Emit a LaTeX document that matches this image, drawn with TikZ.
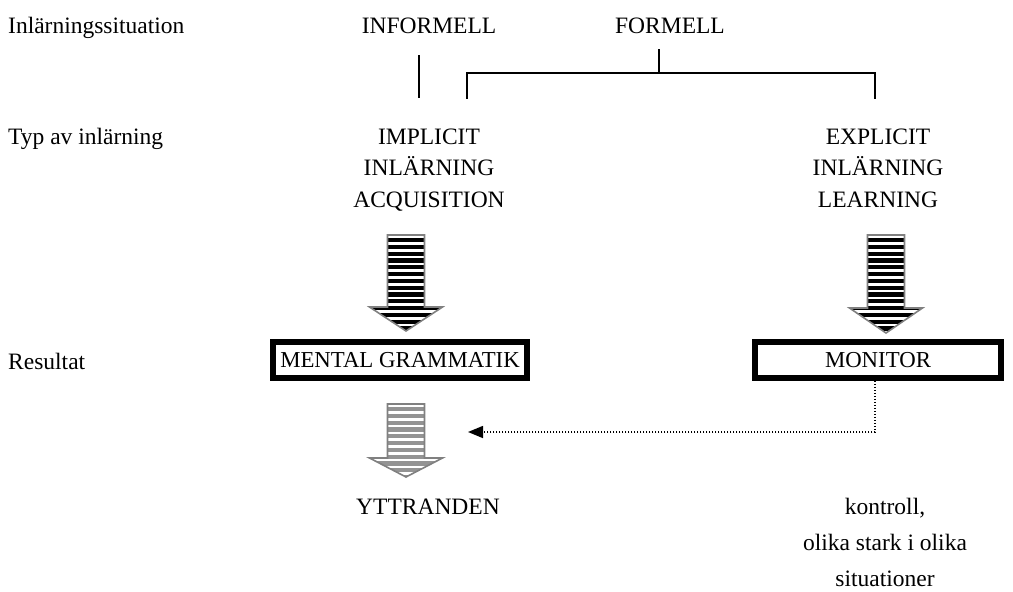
\documentclass[tikz,border=0pt]{standalone}
\usepackage{fontspec}
\setmainfont{Liberation Serif}
\usetikzlibrary{arrows.meta}
\begin{document}
\begin{tikzpicture}[x=1pt,y=-1pt,
  txt/.style={font=\fontsize{23.5}{27}\selectfont, inner sep=0pt, anchor=base},
  ltxt/.style={txt, anchor=base west},
  tree/.style={line width=1.4pt},
  resbox/.style={draw, line width=5.5pt, minimum width=255pt, minimum height=36pt, inner sep=0pt, font=\fontsize{22.8}{27}\selectfont}]
\useasboundingbox (0,0) rectangle (1013,592);
% column 1 labels
\node[ltxt] (sit) at (8,33) {Inlärningssituation};
\node[ltxt] (typ) at (8,144) {Typ av inlärning};
\node[ltxt] (res) at (8,369) {Resultat};
% top row
\node[txt] (inf) at (429,33) {INFORMELL};
\node[txt] (for) at (670,33) {FORMELL};
% tree lines
\coordinate (infa) at (419,55);
\coordinate (infb) at (419,98);
\draw[tree] (infa) -- (infb);
\coordinate (fs) at (659,49);
\coordinate (fm) at (659,73);
\coordinate (fl) at (467,73);
\coordinate (fr) at (875,73);
\coordinate (fld) at (467,98);
\coordinate (frd) at (875,98);
\draw[tree] (fs) -- (fm);
\draw[tree, line cap=rect] (fld) -- (fl) -- (fr) -- (frd);
% second row
\node[txt] (imp1) at (429,144) {IMPLICIT};
\node[txt] (imp2) at (429,175) {INLÄRNING};
\node[txt] (imp3) at (429,207) {ACQUISITION};
\node[txt] (exp1) at (878,144) {EXPLICIT};
\node[txt] (exp2) at (878,175) {INLÄRNING};
\node[txt] (exp3) at (878,207) {LEARNING};
% striped arrows
\newcommand{\stripearrow}[6]{% cx, ytop, yhead, ytip, stripe colour, outline colour
  \begin{scope}
    \path[clip] (#1-18.5,#2) -- (#1+18.5,#2) -- (#1+18.5,#3) -- (#1+36.5,#3) -- (#1,#4) -- (#1-36.5,#3) -- (#1-18.5,#3) -- cycle;
    \fill[white] (#1-40,#2) rectangle (#1+40,#4);
    \foreach \k in {0,...,14} {
      \fill[#5] (#1-40,{#2+3+\k*6.8}) rectangle (#1+40,{#2+3+\k*6.8+4.2});
    }
  \end{scope}
  \draw[#6, line width=1.6pt, line join=miter] (#1-18.5,#2) -- (#1+18.5,#2) -- (#1+18.5,#3) -- (#1+36.5,#3) -- (#1,#4) -- (#1-36.5,#3) -- (#1-18.5,#3) -- cycle;
}
\stripearrow{406}{235}{307}{331}{black}{gray}
\stripearrow{886}{235}{308}{333}{black}{gray}
\stripearrow{406}{404}{458}{477}{gray!85}{gray}
% result boxes
\node[resbox, minimum width=254pt] (mg) at (400,360) {MENTAL GRAMMATIK};
\node[resbox, minimum width=246pt] (mon) at (878,360) {MONITOR};
% output
\node[txt] (ytt) at (428,514) {YTTRANDEN};
\node[txt] (k1) at (885,514) {kontroll,};
\node[txt] (k2) at (885,550) {olika stark i olika};
\node[txt] (k3) at (885,586) {situationer};
% dotted feedback arrow
\coordinate (dc) at (875,432);
\coordinate (dt) at (468,432);
\draw[line width=1.5pt, dash pattern=on 1.5pt off 1.5pt, -{Triangle[length=15pt,width=12pt]}] (mon.south -| dc) -- (dc) -- (dt);
\end{tikzpicture}
\end{document}
